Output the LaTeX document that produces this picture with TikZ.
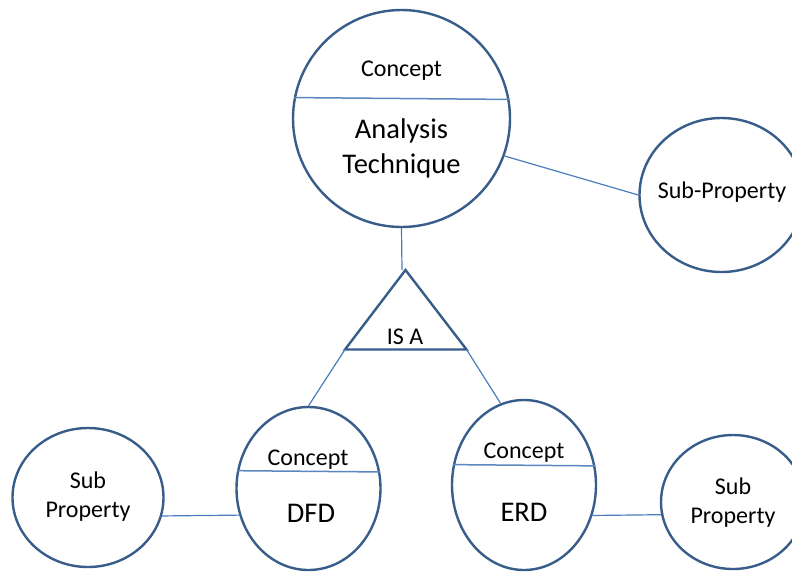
\documentclass[tikz,border=0pt]{standalone}
\usepackage{fontspec}
\setmainfont{Carlito}
\usetikzlibrary{shapes.geometric}
\definecolor{outline}{HTML}{385D8A}
\definecolor{linkblue}{HTML}{4A7EBB}
\definecolor{divblue}{HTML}{5B87C0}
\tikzset{
  bubble/.style={ellipse, draw=outline, line width=2.4pt, fill=white, inner sep=0pt},
  link/.style={draw=linkblue, line width=1.2pt},
  divider/.style={draw=divblue, line width=1.5pt},
  small/.style={font=\fontsize{24}{29}\selectfont, inner sep=0pt, align=center, text=black, yshift=-2.5pt},
  big/.style={font=\fontsize{28.5}{35}\selectfont, inner sep=0pt, align=center, text=black, yshift=-2.5pt},
}
\begin{document}
\begin{tikzpicture}[x=1pt, y=-1pt]
\useasboundingbox (0,0) rectangle (792,571);
\clip (0,0) rectangle (792,571);

% shapes
\node[bubble, minimum width=217pt, minimum height=217pt] (tech) at (401.5,118.5) {};
\node[bubble, minimum width=164pt, minimum height=154pt] (subp) at (721.5,195) {};
\node[bubble, minimum width=144pt, minimum height=163pt] (dfd) at (308.5,488.5) {};
\node[bubble, minimum width=144pt, minimum height=170pt] (erd) at (524,485) {};
\node[bubble, minimum width=151pt, minimum height=139pt] (lsub) at (88,497.5) {};
\node[bubble, minimum width=144pt, minimum height=134pt] (rsub) at (733,502) {};

% IS A triangle
\coordinate (apex) at (405.5,270);
\coordinate (bl) at (345,349.5);
\coordinate (br) at (466.5,349.5);
\coordinate (isatop) at (402,270);
\draw[outline, line width=2.4pt, line join=miter] (apex) -- (bl) -- (br) -- cycle;

% dividers inside the concept shapes
\draw[divider] (tech.169.1) -- (tech.10.9);
\draw[divider] (dfd.166.83) -- (dfd.13.17);
\draw[divider] (erd.164.05) -- (erd.15.95);

% connectors
\draw[link] (tech.south) -- (isatop);
\draw[link] (tech.-20) -- (subp.west);
\draw[link] (bl) -- (dfd.north);
\draw[link] (br) -- (erd.106);
\draw[link] (lsub.-14) -- (dfd.201.8);
\draw[link] (erd.-24) -- (rsub.190.4);

% labels
\node[small] (techc) at (401.5,68) {Concept};
\node[big] (techl) at (401.5,146) {Analysis\\Technique};
\node[small] (subpl) at (722,190) {Sub-Property};
\node[small] (isal) at (405,334) {IS A};
\node[small] (dfdc) at (308,457) {Concept};
\node[big] (dfdl) at (311,511) {DFD};
\node[small] (erdc) at (524,450) {Concept};
\node[big] (erdl) at (524,510) {ERD};
\node[small] (lsubl) at (88,494) {Sub\\Property};
\node[small] (rsubl) at (733,500) {Sub\\Property};
\end{tikzpicture}
\end{document}
